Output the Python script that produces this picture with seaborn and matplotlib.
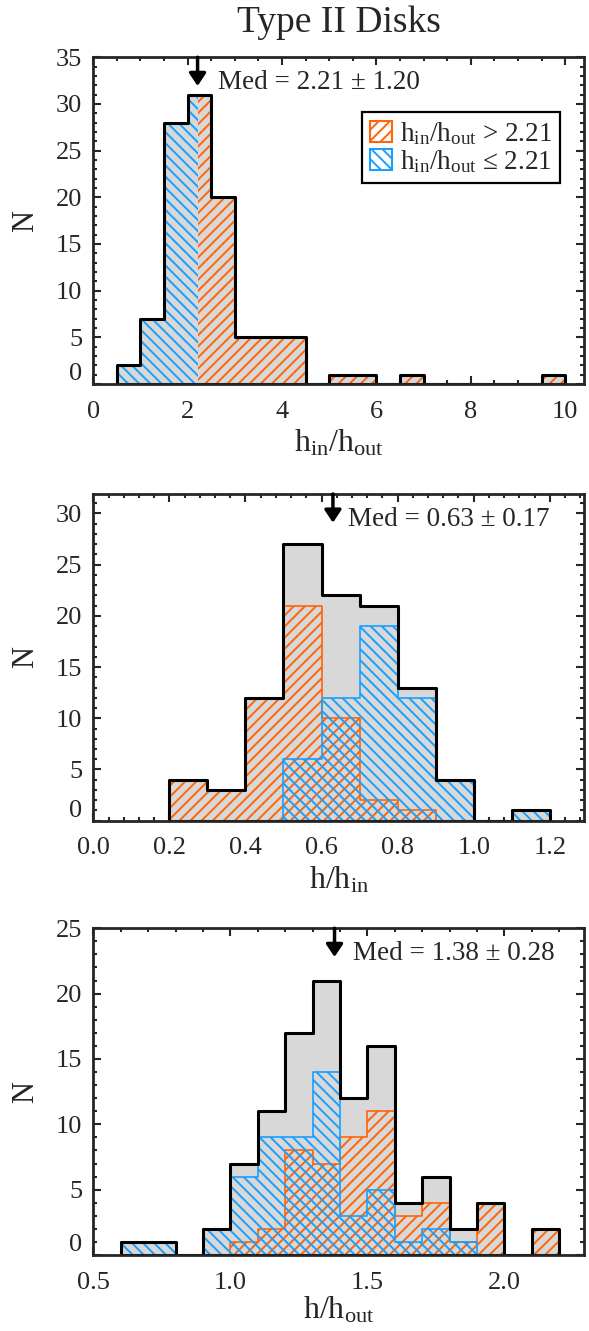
import numpy as np
import pandas as pd
import matplotlib
matplotlib.use('Agg')
import matplotlib.pyplot as plt
from matplotlib.patches import Patch
from matplotlib.ticker import MultipleLocator, FuncFormatter
import seaborn as sns

# ---- data (counts per bin) ----
# top panel: h_in/h_out, 0.5-wide bins from 0.5 to 10.0
top_edges = np.arange(0.5, 10.01, 0.5)
top_counts = [2, 7, 28, 31, 20, 5, 5, 5, 0, 1, 1, 0, 1, 0, 0, 0, 0, 0, 1]
top_med, top_err = 2.21, 1.20

# middle panel: h/h_in, 0.1-wide bins from 0.2 to 1.2
mid_edges = np.round(np.arange(0.2, 1.201, 0.1), 2)
mid_total = [4, 3, 12, 27, 22, 21, 13, 4, 0, 1]
mid_orange = [4, 3, 12, 21, 10, 2, 1, 0, 0, 0]
mid_blue = [0, 0, 0, 6, 12, 19, 12, 4, 0, 1]
mid_med, mid_err = 0.63, 0.17

# bottom panel: h/h_out, 0.1-wide bins from 0.6 to 2.2
bot_edges = np.round(np.arange(0.6, 2.201, 0.1), 2)
bot_total = [1, 1, 0, 2, 7, 11, 17, 21, 12, 16, 4, 6, 2, 4, 0, 2]
bot_blue = [1, 1, 0, 2, 6, 9, 9, 14, 3, 5, 1, 2, 1, 0, 0, 0]
bot_orange = [0, 0, 0, 0, 1, 2, 8, 7, 9, 11, 3, 4, 1, 4, 0, 2]
bot_med, bot_err = 1.38, 0.28

ORANGE = '#ff6408'
BLUE = '#17a0ff'
GRAY = '#d8d8d8'
CLEAR = (1, 1, 1, 0)

sns.set_style('ticks')
plt.rcParams['font.family'] = ['Liberation Serif', 'DejaVu Serif']
plt.rcParams['mathtext.fontset'] = 'custom'
plt.rcParams['mathtext.rm'] = 'Liberation Serif'
plt.rcParams['mathtext.it'] = 'Liberation Serif:italic'
plt.rcParams['hatch.linewidth'] = 1.4
plt.rcParams['axes.linewidth'] = 2.0


def hist(ax, edges, counts, color, **kw):
    edges = np.asarray(edges, float)
    df = pd.DataFrame({'x': (edges[:-1] + edges[1:]) / 2, 'w': counts})
    sns.histplot(data=df, x='x', weights='w', bins=list(edges), element='step',
                 fill=True, alpha=1, color=color, ax=ax, **kw)


def style_axes(ax, xlim, ylim, xmaj, xmin):
    ax.set_xlim(*xlim)
    ax.set_ylim(*ylim)
    ax.xaxis.set_major_locator(MultipleLocator(xmaj))
    ax.xaxis.set_minor_locator(MultipleLocator(xmin))
    ax.yaxis.set_major_locator(MultipleLocator(5))
    ax.yaxis.set_minor_locator(MultipleLocator(1))
    ax.tick_params(which='both', direction='in', top=True, right=True,
                   width=1.5, labelsize=19)
    ax.tick_params(which='major', length=6)
    ax.tick_params(which='minor', length=3.2)
    ax.tick_params(axis='x', pad=12)
    ax.tick_params(axis='y', pad=8)
    # the "0" label sits a little above the axis
    ax.yaxis.set_major_formatter(FuncFormatter(lambda v, p: '' if v == 0 else f'{v:g}'))
    ax.annotate('0', xy=(0, 0), xycoords=('axes fraction', 'data'),
                xytext=(-8, 7), textcoords='offset points',
                ha='right', va='center', fontsize=19)
    ax.set_ylabel('N', fontsize=22)
    ax.yaxis.set_label_coords(-0.108, 0.5)
    ax.set_xlabel('')


def median_mark(ax, xm, err, dx):
    ax.annotate('', xy=(xm, 0.912), xycoords=('data', 'axes fraction'),
                xytext=(xm, 1.0),
                arrowprops=dict(arrowstyle='-|>,head_width=0.5,head_length=0.75',
                                color='k', lw=2.5, shrinkA=0, shrinkB=0,
                                mutation_scale=10))
    ax.annotate(f'Med = {xm:.2f} \u00b1 {err:.2f}', xy=(xm, 1.0),
                xycoords=('data', 'axes fraction'), xytext=(dx, -23),
                textcoords='offset points', ha='left', va='baseline',
                fontsize=19.5)


fig = plt.figure(figsize=(5.89, 13.31), dpi=100)
L, W, H = 0.1584, 0.8331, 0.2455
ax1 = fig.add_axes([L, 0.7115, W, H])
ax2 = fig.add_axes([L, 0.3834, W, H])
ax3 = fig.add_axes([L, 0.0571, W, H])

# ---- top panel: split at the median ----
cut = np.searchsorted(top_edges, top_med)
blue_edges = np.append(top_edges[:cut], top_med)
orange_edges = np.insert(top_edges[cut:], 0, top_med)
blue_counts = top_counts[:cut]
orange_counts = top_counts[cut - 1:]

hist(ax1, top_edges, top_counts, GRAY, facecolor=GRAY, edgecolor=CLEAR, lw=0)
hist(ax1, orange_edges, orange_counts, ORANGE, facecolor=CLEAR, edgecolor=ORANGE,
     hatch='///', lw=0)
hist(ax1, blue_edges, blue_counts, BLUE, facecolor=CLEAR, edgecolor=BLUE,
     hatch='\\\\\\', lw=0)
hist(ax1, top_edges, top_counts, 'black', facecolor=CLEAR, edgecolor='black', lw=2.2)
style_axes(ax1, (0, 10.4), (0, 35), 2, 0.5)
median_mark(ax1, top_med, top_err, 15)
handles = [Patch(facecolor='white', edgecolor=ORANGE, hatch='///', lw=1.5),
           Patch(facecolor='white', edgecolor=BLUE, hatch='\\\\\\', lw=1.5)]
labels = [r'$\mathregular{h_{in}/h_{out}}$ > ' + f'{top_med:.2f}',
          r'$\mathregular{h_{in}/h_{out}}$ ' + '\u2264 ' + f'{top_med:.2f}']
leg = ax1.legend(handles, labels, loc='upper right', bbox_to_anchor=(0.951, 0.833),
                 borderaxespad=0, fontsize=19.5, frameon=True, fancybox=False,
                 edgecolor='black', framealpha=1, handlelength=0.8,
                 handleheight=0.8, handletextpad=0.3, borderpad=0.3,
                 labelspacing=0.05)
leg.get_frame().set_linewidth(1.6)
ax1.text(0.5, -0.135, r'$\mathregular{h_{in}/h_{out}}$', transform=ax1.transAxes,
         ha='center', va='top', fontsize=23)

# ---- middle panel ----
hist(ax2, mid_edges, mid_total, GRAY, facecolor=GRAY, edgecolor=CLEAR, lw=0)
hist(ax2, mid_edges, mid_orange, ORANGE, facecolor=CLEAR, edgecolor=ORANGE,
     hatch='///', lw=1.2)
hist(ax2, mid_edges, mid_blue, BLUE, facecolor=CLEAR, edgecolor=BLUE,
     hatch='\\\\\\', lw=1.2)
hist(ax2, mid_edges, mid_total, 'black', facecolor=CLEAR, edgecolor='black', lw=2.2)
style_axes(ax2, (0, 1.29), (0, 31.9), 0.2, 0.04)
ax2.xaxis.set_major_formatter(FuncFormatter(lambda v, p: f'{v:.1f}'))
median_mark(ax2, mid_med, mid_err, 10.5)
ax2.text(0.5, -0.135, r'$\mathregular{h/h_{in}}$', transform=ax2.transAxes,
         ha='center', va='top', fontsize=23)

# ---- bottom panel ----
hist(ax3, bot_edges, bot_total, GRAY, facecolor=GRAY, edgecolor=CLEAR, lw=0)
hist(ax3, bot_edges, bot_orange, ORANGE, facecolor=CLEAR, edgecolor=ORANGE,
     hatch='///', lw=1.2)
hist(ax3, bot_edges, bot_blue, BLUE, facecolor=CLEAR, edgecolor=BLUE,
     hatch='\\\\\\', lw=1.2)
hist(ax3, bot_edges, bot_total, 'black', facecolor=CLEAR, edgecolor='black', lw=2.2)
style_axes(ax3, (0.5, 2.29), (0, 25), 0.5, 0.1)
ax3.xaxis.set_major_formatter(FuncFormatter(lambda v, p: f'{v:.1f}'))
median_mark(ax3, bot_med, bot_err, 13.5)
ax3.text(0.5, -0.122, r'$\mathregular{h/h_{out}}$', transform=ax3.transAxes,
         ha='center', va='top', fontsize=23)

fig.text(0.575, 1 - 31.7 / 1331, 'Type II Disks', ha='center', va='baseline',
         fontsize=27)

fig.savefig('out.png', dpi=100)
